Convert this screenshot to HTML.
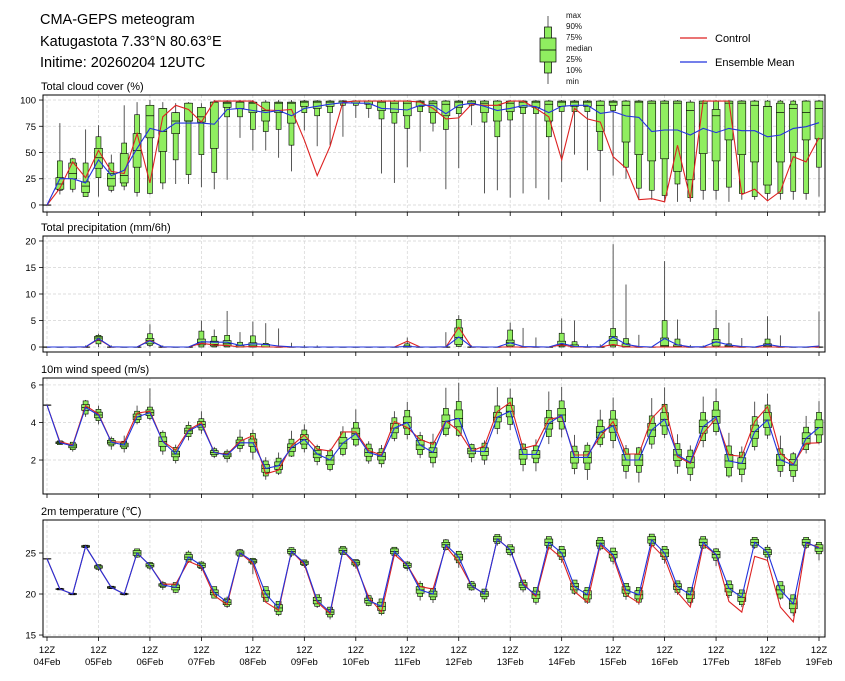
<!DOCTYPE html>
<html><head><meta charset="utf-8"><style>
body{margin:0;background:#fff}
svg{display:block;font-family:"Liberation Sans","DejaVu Sans",sans-serif}
</style></head><body>
<svg id="chart" width="845" height="681" viewBox="0 0 845 681">
<text x="40" y="24" font-size="14.5">CMA-GEPS meteogram</text>
<text x="40" y="46" font-size="14.5">Katugastota 7.33°N 80.63°E</text>
<text x="40" y="67" font-size="14.5">Initime: 20260204 12UTC</text>
<g>
<line x1="548" y1="16" x2="548" y2="84" stroke="#333" stroke-width="0.8"/>
<rect x="544.5" y="27" width="7" height="46" fill="#90ee60" stroke="#000" stroke-width="0.7"/>
<rect x="540" y="38" width="16" height="24" fill="#90ee60" stroke="#000" stroke-width="0.7"/>
<line x1="540" y1="50" x2="556" y2="50" stroke="#000" stroke-width="0.8"/>
<g font-size="8" fill="#111"><text x="566" y="18">max</text><text x="566" y="29">90%</text><text x="566" y="40">75%</text><text x="566" y="51">median</text><text x="566" y="62">25%</text><text x="566" y="73">10%</text><text x="566" y="84">min</text></g>
</g>
<g>
<line x1="680" y1="38" x2="707" y2="38" stroke="#dd2222" stroke-width="1.2"/>
<text x="715" y="42" font-size="11">Control</text>
<line x1="680" y1="62" x2="707" y2="62" stroke="#2233dd" stroke-width="1.2"/>
<text x="715" y="66" font-size="11">Ensemble Mean</text>
</g>
</svg>
<script>
// ---- data ----
const dayLabels=["04Feb","05Feb","06Feb","07Feb","08Feb","09Feb","10Feb","11Feb","12Feb","13Feb","14Feb","15Feb","16Feb","17Feb","18Feb","19Feb"];
const cMean=[0,25,25,21,43,28,33,54,73,70,78,78,78,77,91,92,90,88,90,85,92,94,96,97.5,97,97,92,91.5,90.5,95,95,87,95,97,94,90,92,94.7,93.7,88,94,95,95,87.3,89,84.8,83.5,70,71.4,71.4,66.7,73,69,73,70.8,70.8,65,66.7,73,74.6,78.4];
const cCtrl=[0,16,41,26,52,32,30,68,21,84,95,91,79,99,99,99,99,90.5,90,91,62,28,56,98,99,99,99,99,99,98,92,82,83,96,95,95,99,99,92,84,43,92,82,79,46,35,5,6,3,57,6,99,99,99,10,15,4,13,46,41,64];
const cMin=[0,10,12,8,8,12,14,8,10,15,20,20,17,15,24,64,52,52,45,32,71,56,57,65,83,83,30,21,36,51,70,15,35,76,11,14,7,11,16,5,22,48,33,3,28,25,5,5,3,3,3,5,5,3,5,5,5,5,5,5,8];
const cQ10=[0,14,15,8,26,14,18,12,11,21,43,29,48,31,84,84,72,70,72,57,88,85,88,95,95,92,82,78,73,89,78,72,87,95,79,65,81,87,87,65,89,89,89,52,90,36,16,14,9,20,7,14,14,17,11,8,11,11,13,11,36];
const cQ25=[0,15,25,12,35,18,21,36,64,51,68,80,79,54,93,92,88,80,88,78,94,92,94,97,97,96,90,88,85,94,88,85,93,97,88,80,89,93,93,80,94,94,94,70,95,60,48,42,44,32,24,49,42,62,48,41,19,41,50,62,63];
const cMed=[0,20,30,18,45,25,28,52,85,70,80,80,84,98,97,98,97,90,97,97,98,98,98,99,99,99,98,97,97,98,97,96,98,99,97,95,97,98,98,96,98,98,98,95,98,95,98,97,97,97,90,97,85,97,97,95,94,88,92,88,92];
const cQ75=[0,26,40,22,54,30,49,68,95,92,88,97,93,98,98,98,98,98,98,98,99,99,99,99,99,99,99,99,99,99,99,99,99,99,99,99,99,99,99,99,99,99,99,99,99,99,99,99,99,99,98,99,91,99,99,99,94,97,96,99,99];
const cQ90=[0,42,44,40,65,40,59,86,95,92,88,97,93,98,98,98,98,98,98,98,99,99,99,99,99,99,99,99,99,99,99,99,99,99,99,99,99,99,99,99,99,99,99,99,99,99,99,99,99,99,98,99,99,99,99,99,99,99,99,99,99];
const cMax=[0,78,45,72,76,48,95,98,100,98,97,98,97,100,100,100,100,100,100,100,100,100,100,100,100,100,100,100,100,100,100,100,100,100,100,100,100,100,100,100,100,100,100,100,100,100,100,100,100,100,100,100,100,100,100,100,100,100,100,100,100];

const pMean=[0,0,0,0.05,1.6,0.05,0,0,1.2,0.05, 0,0,1.0,0.9,0.9,0.3,0.6,0.5,0.2,0.05, 0,0,0,0,0,0,0,0,0.1,0, 0,0.05,1.9,0.05,0,0,0.8,0.1,0.05,0, 0.7,0.1,0.05,0.05,1.9,0.5,0.1,0,1.6,0.4, 0.05,0.05,1.0,0.4,0.1,0,0.5,0.1,0,0, 0.2];
const pCtrl=[0,0,0,0,1.5,0,0,0,1.3,0, 0,0,0.7,0.4,0.3,0,0.1,0,0,0, 0,0,0,0,0,0,0,0,1.1,0, 0,0,3.7,0,0,0,0,0,0,0, 0.4,0,0,0,0.5,0,0,0,0,0, 0,0,0,0,0,0,0,0,0,0, 0];
const pQ10=[0,0,0,0,0.6,0,0,0,0.3,0, 0,0,0,0,0,0,0,0,0,0, 0,0,0,0,0,0,0,0,0,0, 0,0,0.1,0,0,0,0,0,0,0, 0,0,0,0,0,0,0,0,0,0, 0,0,0,0,0,0,0,0,0,0, 0];
const pQ25=[0,0,0,0,1.2,0,0,0,0.6,0, 0,0,0.4,0.2,0.2,0,0,0,0,0, 0,0,0,0,0,0,0,0,0,0, 0,0,0.5,0,0,0,0.2,0,0,0, 0.2,0,0,0,0.3,0,0,0,0.1,0, 0,0,0.2,0,0,0,0,0,0,0, 0];
const pMed=[0,0,0,0,1.7,0,0,0,1.2,0, 0,0,0.9,0.5,0.6,0,0.2,0,0,0, 0,0,0,0,0,0,0,0,0,0, 0,0,1.8,0,0,0,0.8,0,0,0, 0.5,0,0,0,1.2,0.1,0,0,0.3,0.1, 0,0,0.9,0.1,0,0,0.2,0,0,0, 0];
const pQ75=[0,0,0,0,2.0,0,0,0,1.6,0, 0,0,1.5,1.1,1.2,0.3,0.8,0.5,0,0, 0,0,0,0,0,0,0,0,0.2,0, 0,0,3.6,0,0,0,1.3,0,0,0, 1.1,0.4,0,0,2.0,0.6,0,0,1.7,0.4, 0,0,1.4,0.3,0,0,0.6,0,0,0, 0];
const pQ90=[0,0,0,0,2.2,0,0,0,2.5,0, 0,0,3.0,2.0,2.2,0.9,2.1,0.7,0,0, 0,0,0,0,0,0,0,0,0.6,0, 0,0,5.2,0,0,0,3.2,0,0,0, 2.6,1.0,0,0,3.5,1.6,0,0,5.0,1.5, 0,0,3.5,0.6,0,0,1.5,0,0,0, 0];
const pMax=[0,0,0,0.3,2.5,0.3,0,0,4.3,0.3, 0,0,5.0,3.3,6.8,2.8,4.8,4.5,3.5,0.8, 0.4,0.3,0,0,0,0,0,0,1.8,0, 0,2.8,6.0,0.3,0,0,4.6,3.6,1.8,0, 5.4,5.0,0.5,0.5,19.4,11.8,2.3,0,16.2,5.2, 0.4,0.3,7.0,4.6,1.7,0,5.8,2.2,0,0, 6.7];

const wMean=[4.93,2.92,2.75,4.8,4.4,2.95,2.8,4.3,4.52,2.98, 2.32,3.55,3.9,2.4,2.27,2.92,2.92,1.55,1.7,2.66, 3.1,2.32,2.0,2.9,3.4,2.4,2.2,3.7,4.0,2.8, 2.4,4.05,4.22,2.48,2.45,4.28,4.6,2.3,2.3,3.95, 4.4,2.14,2.14,3.48,3.83,2.0,2.0,3.6,4.17,2.27, 1.88,3.78,4.31,1.95,1.82,3.51,4.13,2.0,1.73,3.15, 3.74];
const wCtrl=[4.93,2.97,2.8,4.9,4.45,2.97,2.95,4.5,4.6,3.0, 2.53,3.6,4.0,2.4,2.3,3.0,3.3,1.26,1.47,2.75, 3.33,2.58,2.48,3.5,3.5,2.5,2.27,4.05,3.73,3.1, 2.84,4.08,3.55,2.48,2.75,4.58,5.07,2.62,2.8,4.17, 4.3,2.27,2.27,3.24,4.05,2.32,2.32,4.22,4.93,2.18, 1.82,3.42,4.22,2.27,2.2,4.05,4.84,2.36,1.77,2.89, 2.92];
const wS25=[0,0.05,0.1,0.15,0.15,0.1,0.1,0.15,0.15,0.25, 0.15,0.15,0.15,0.1,0.1,0.15,0.2,0.2,0.2,0.2, 0.25,0.2,0.25,0.3,0.3,0.2,0.2,0.25,0.3,0.25, 0.25,0.35,0.45,0.15,0.2,0.25,0.3,0.25,0.2,0.3, 0.35,0.3,0.3,0.3,0.35,0.3,0.3,0.35,0.35,0.3, 0.3,0.35,0.35,0.35,0.3,0.35,0.4,0.3,0.3,0.3, 0.4];
const wS10=[0,0.1,0.2,0.35,0.3,0.2,0.2,0.3,0.3,0.5, 0.35,0.3,0.3,0.2,0.2,0.3,0.5,0.4,0.4,0.45, 0.5,0.4,0.5,0.6,0.6,0.45,0.4,0.55,0.65,0.5, 0.55,0.7,0.9,0.35,0.45,0.6,0.7,0.55,0.45,0.7, 0.75,0.6,0.65,0.65,0.8,0.6,0.65,0.75,0.8,0.6, 0.65,0.75,0.8,0.8,0.6,0.8,0.8,0.6,0.6,0.6, 0.8];
const wLo=[0,0.1,0.3,0.5,0.5,0.4,0.4,0.4,0.4,0.7, 0.5,0.5,0.5,0.3,0.4,0.5,0.9,0.6,0.5,0.5, 0.7,0.6,0.6,0.7,0.7,0.6,0.6,0.7,0.9,0.7, 0.8,0.8,1.0,0.6,0.7,0.9,1.0,0.9,0.9,1.1, 1.2,0.9,1.2,0.8,1.2,1.0,1.2,1.0,1.0,1.0, 1.0,1.1,1.0,0.9,1.0,1.0,1.0,0.9,0.9,0.8, 0.9];
const wHi=[0,0.1,0.2,0.4,0.5,0.3,0.5,0.6,1.3,0.6, 0.5,0.5,0.7,0.3,0.3,0.7,0.7,0.6,0.7,0.9, 0.8,0.5,0.6,0.9,1.3,0.6,0.6,0.9,1.1,0.7, 1.0,1.8,1.9,0.4,0.6,1.6,1.2,0.6,0.8,1.7, 1.5,1.2,0.8,1.2,1.5,0.8,0.7,1.7,1.7,1.1, 0.9,1.6,1.5,1.5,0.9,1.6,1.4,1.3,0.7,1.2, 1.4];

const tMean=[24.3,20.6,20.0,25.8,23.3,20.8,20.0,25.0,23.5,21.1, 20.8,24.5,23.5,20.2,19.0,25.0,24.0,20.0,18.3,25.2, 23.8,19.2,17.8,25.3,23.8,19.2,18.5,25.2,23.5,20.5, 20.0,26.0,24.5,21.0,20.0,26.7,25.4,21.1,19.9,26.3, 25.0,20.9,19.9,26.2,24.8,20.5,19.9,26.6,25.0,20.9, 19.9,26.3,24.8,20.7,19.6,26.3,25.1,20.5,18.8,26.3, 25.6];
const tCtrl=[24.3,20.6,20.0,25.8,23.3,20.8,20.0,25.0,23.5,21.2, 21.2,24.0,23.3,19.8,18.7,25.0,23.7,19.0,18.0,25.2, 23.6,19.0,17.6,25.3,23.5,19.6,17.8,24.8,23.5,20.9, 20.6,25.8,23.9,21.0,20.0,26.7,25.4,21.3,19.7,25.7, 24.4,20.3,19.0,26.0,24.5,19.9,18.9,26.0,24.4,20.2, 18.4,26.0,24.8,19.1,17.8,24.6,24.1,18.4,16.6,26.2, 25.7];
const tS25=[0,0.05,0.05,0.1,0.15,0.1,0.05,0.3,0.2,0.15, 0.3,0.3,0.25,0.3,0.3,0.25,0.2,0.4,0.4,0.25, 0.2,0.4,0.3,0.3,0.25,0.3,0.5,0.3,0.25,0.4, 0.35,0.3,0.35,0.25,0.3,0.3,0.35,0.3,0.45,0.4, 0.4,0.4,0.5,0.35,0.4,0.4,0.5,0.4,0.45,0.35, 0.45,0.4,0.4,0.45,0.5,0.35,0.3,0.5,0.6,0.35, 0.4];
const tS10=[0,0.1,0.1,0.15,0.3,0.15,0.1,0.5,0.35,0.3, 0.6,0.6,0.4,0.7,0.5,0.4,0.35,0.9,0.8,0.45, 0.35,0.7,0.6,0.5,0.4,0.6,0.9,0.5,0.4,0.8, 0.7,0.6,0.7,0.5,0.6,0.55,0.6,0.6,0.9,0.7, 0.8,0.8,0.9,0.7,0.8,0.8,0.9,0.7,0.8,0.7, 0.9,0.7,0.7,0.9,0.9,0.6,0.6,1.0,1.1,0.6, 0.7];
const tLo=[0,0.1,0.1,0.2,0.5,0.2,0.2,0.6,0.6,0.6, 0.7,0.7,0.7,0.7,0.7,0.4,1.6,0.9,1.0,0.7, 0.6,0.9,0.9,0.5,0.7,0.7,1.1,0.6,0.7,1.3, 1.1,0.7,1.3,0.6,1.0,0.8,0.8,0.9,1.2,0.9, 1.2,1.0,1.1,0.9,1.2,1.2,1.2,0.9,1.3,1.0, 1.2,0.8,1.4,1.2,1.2,0.8,1.2,1.2,1.5,0.8, 1.5];
const tHi=[0,0.1,0.1,0.2,0.3,0.2,0.2,0.5,0.4,0.5, 0.5,0.8,0.5,0.6,0.7,0.5,0.4,0.8,0.7,0.5, 0.4,0.5,0.5,0.5,0.4,0.7,0.6,0.4,0.5,1.1, 0.6,0.7,0.6,0.6,0.6,0.5,0.5,0.6,0.8,0.6, 0.6,0.7,0.7,0.6,0.6,0.7,0.7,0.6,0.6,0.7, 0.7,0.5,0.8,0.5,0.6,0.6,0.9,0.6,0.7,0.6, 0.7];

const ns="http://www.w3.org/2000/svg";
const svg=document.getElementById('chart');
const X0=43,X1=825;
const xStep=i=>47+i*(819-47)/60;
function mk(tag,attrs,parent){const e=document.createElementNS(ns,tag);for(const k in attrs)e.setAttribute(k,attrs[k]);(parent||svg).appendChild(e);return e;}

function panel(cfg){
  const g=mk('g',{});
  
  
  const y=v=>cfg.bot-(v-cfg.vmin)*(cfg.bot-cfg.top)/(cfg.vmax-cfg.vmin);
  for(let d=0;d<dayLabels.length;d++){const gx=xStep(d*4);
    mk('line',{x1:gx,x2:gx,y1:cfg.top,y2:cfg.bot,stroke:'#d4d4d4','stroke-width':0.7,'stroke-dasharray':'3,2'},g);
    const tk=mk('line',{x1:gx,x2:gx,y1:cfg.bot,y2:cfg.bot+4,stroke:'#000','stroke-width':0.8},g);
    
    
  }
  cfg.ticks.forEach(t=>{const ty=y(t);
    mk('line',{x1:X0,x2:X1,y1:ty,y2:ty,stroke:'#d4d4d4','stroke-width':0.7,'stroke-dasharray':'3,2'},g);
    mk('line',{x1:X0-4,x2:X0,y1:ty,y2:ty,stroke:'#000','stroke-width':0.8},g);
    const tl=mk('text',{x:X0-7,y:ty+3.5,'font-size':9.5,'text-anchor':'end'},g);
    tl.textContent=t;
    
    
  });
  const tt=mk('text',{x:41,y:cfg.top-5,'font-size':11},g);tt.textContent=cfg.title;
  
  
  for(let i=0;i<cfg.mean.length;i++){
    const s=cfg.stats(i);const cx=xStep(i);
    const bg=mk('g',{},g);
    
    
    mk('line',{x1:cx,x2:cx,y1:y(s.mn),y2:y(s.mx),stroke:'#444','stroke-width':0.9},bg);
    mk('rect',{x:cx-2.5,y:y(s.q90),width:5,height:Math.max(0.3,y(s.q10)-y(s.q90)),fill:'#90ee60',stroke:'#000','stroke-width':0.6},bg);
    mk('rect',{x:cx-4,y:y(s.q75),width:8,height:Math.max(0.3,y(s.q25)-y(s.q75)),fill:'#90ee60',stroke:'#000','stroke-width':0.6},bg);
    mk('line',{x1:cx-4,x2:cx+4,y1:y(s.med),y2:y(s.med),stroke:'#000','stroke-width':0.7},bg);
  }
  const pts=a=>a.map((v,i)=>xStep(i).toFixed(1)+','+y(v).toFixed(1)).join(' ');
  const c=mk('polyline',{points:pts(cfg.ctrl),fill:'none',stroke:'#dd2222','stroke-width':1.1},g);
  
  
  const m=mk('polyline',{points:pts(cfg.mean),fill:'none',stroke:'#2233dd','stroke-width':1.1},g);
  
  
  mk('rect',{x:X0,y:cfg.top,width:X1-X0,height:cfg.bot-cfg.top,fill:'none',stroke:'#000','stroke-width':1},g);
}

panel({name:'cloud-cover',title:'Total cloud cover (%)',top:95,bot:212,vmin:-6.7,vmax:104.8,ticks:[0,25,50,75,100],
  mean:cMean,ctrl:cCtrl,stats:i=>({mn:cMin[i],q10:cQ10[i],q25:cQ25[i],med:cMed[i],q75:cQ75[i],q90:cQ90[i],mx:cMax[i]})});
panel({name:'precipitation',title:'Total precipitation (mm/6h)',top:236,bot:352,vmin:-0.94,vmax:20.94,ticks:[0,5,10,15,20],
  mean:pMean,ctrl:pCtrl,stats:i=>({mn:0,q10:pQ10[i],q25:pQ25[i],med:pMed[i],q75:pQ75[i],q90:pQ90[i],mx:pMax[i]})});
panel({name:'wind-speed',title:'10m wind speed (m/s)',top:378,bot:494,vmin:0.19,vmax:6.37,ticks:[2,4,6],
  mean:wMean,ctrl:wCtrl,stats:i=>({mn:wMean[i]-wLo[i],q10:wMean[i]-wS10[i],q25:wMean[i]-wS25[i],med:wMean[i],q75:wMean[i]+wS25[i],q90:wMean[i]+wS10[i],mx:wMean[i]+wHi[i]})});
panel({name:'temperature',title:'2m temperature (\u2103)',top:520,bot:637,vmin:14.76,vmax:29.02,ticks:[15,20,25],
  mean:tMean,ctrl:tCtrl,stats:i=>({mn:tMean[i]-tLo[i],q10:tMean[i]-tS10[i],q25:tMean[i]-tS25[i],med:tMean[i],q75:tMean[i]+tS25[i],q90:tMean[i]+tS10[i],mx:tMean[i]+tHi[i]})});

dayLabels.forEach((d,k)=>{const gx=xStep(k*4);
  const a=mk('text',{x:gx,y:653,'font-size':9.5,'text-anchor':'middle'});a.textContent='12Z';
  
  
  const b=mk('text',{x:gx,y:665,'font-size':9.5,'text-anchor':'middle'});b.textContent=d;
  
  
});
</script>
</body></html>
